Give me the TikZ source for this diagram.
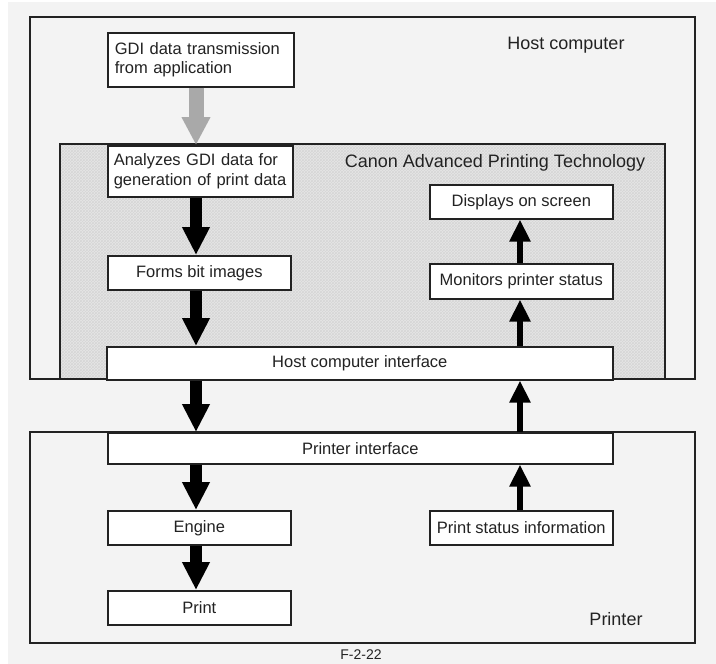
\documentclass[tikz,border=0pt]{standalone}
\usepackage{fontspec}
\setmainfont{Liberation Sans}
\usetikzlibrary{arrows.meta,patterns}
\definecolor{bg}{HTML}{F3F3F3}
\definecolor{capt}{HTML}{E6E6E6}
\definecolor{hatch}{HTML}{D6D6D6}
\definecolor{ink}{HTML}{222222}
\definecolor{garrow}{HTML}{A9A9A9}
\begin{document}
\begin{tikzpicture}[x=1pt,y=-1pt,
  box/.style={draw=ink, line width=1.6pt, fill=white, inner sep=0pt, anchor=north west,
    font=\fontsize{16.5}{19.5}\selectfont, text=ink},
  frame/.style={draw=ink, line width=1.6pt},
  bigarrow/.style={draw=black, line width=12pt, -{Triangle[width=26pt,length=28pt]}},
  smallarrow/.style={draw=black, line width=6pt, -{Triangle[width=20pt,length=22pt]}},
  grayarrow/.style={draw=garrow, line width=15pt, -{Triangle[width=27pt,length=28pt]}},
  lbl/.style={font=\fontsize{18}{21}\selectfont, text=ink, inner sep=0pt}
]
\useasboundingbox (0,0) rectangle (716,664);
\fill[white] (0,0) rectangle (716,664);
\fill[bg] (8,2) rectangle (716,664);

% frames
\draw[frame] (30,17) rectangle (695,379);
\fill[capt] (60,144) rectangle (665,379);
\fill[pattern=crosshatch, pattern color=hatch] (60,144) rectangle (665,379);
\draw[frame] (60,144) rectangle (665,379);
\draw[frame] (30,432) rectangle (695,643);

% labels
\node[lbl] (hostlbl) at (566,45) {Host computer};
\node[lbl] (captlbl) at (495,163) {Canon Advanced Printing Technology};
\node[lbl] (printerlbl) at (616,619) {Printer};
\node[lbl, anchor=north, font=\fontsize{14}{17}\selectfont] (fig) at (361,650) {F-2-22};

% boxes
\node[box, text width=172pt, inner xsep=7pt, minimum height=54pt, align=left] (gdi) at (107,32)
  {GDI data transmission\\from application};
\node[box, text width=173pt, inner xsep=6pt, minimum height=51pt, align=left] (ana) at (107,145)
  {Analyzes GDI data for\\generation of print data};
\node[box, minimum width=183pt, minimum height=34pt] (forms) at (107,255) {Forms bit images};
\node[box, minimum width=183pt, minimum height=34pt] (disp) at (429,184) {Displays on screen};
\node[box, minimum width=183pt, minimum height=35pt] (mon) at (429,263) {Monitors printer status};
\node[box, minimum width=506pt, minimum height=33pt] (hostif) at (106,346) {Host computer interface};
\node[box, minimum width=505pt, minimum height=31pt] (printif) at (107,432) {Printer interface};
\node[box, minimum width=183pt, minimum height=34pt] (engine) at (107,510) {Engine};
\node[box, minimum width=183pt, minimum height=34pt] (print) at (107,590) {Print};
\node[box, minimum width=183pt, minimum height=34pt] (status) at (429,510) {Print status information};

% arrows
\coordinate (L) at (196,0);
\coordinate (R) at (520,0);
\draw[grayarrow] (gdi.south -| L) -- (ana.north -| L);
\draw[bigarrow] (ana.south -| L) -- (forms.north -| L);
\draw[bigarrow] (forms.south -| L) -- (hostif.north -| L);
\draw[bigarrow] (hostif.south -| L) -- (printif.north -| L);
\draw[bigarrow] (printif.south -| L) -- (engine.north -| L);
\draw[bigarrow] (engine.south -| L) -- (print.north -| L);
\draw[smallarrow] (hostif.north -| R) -- (mon.south -| R);
\draw[smallarrow] (mon.north -| R) -- (disp.south -| R);
\draw[smallarrow] (printif.north -| R) -- (hostif.south -| R);
\draw[smallarrow] (status.north -| R) -- (printif.south -| R);
\end{tikzpicture}
\end{document}
